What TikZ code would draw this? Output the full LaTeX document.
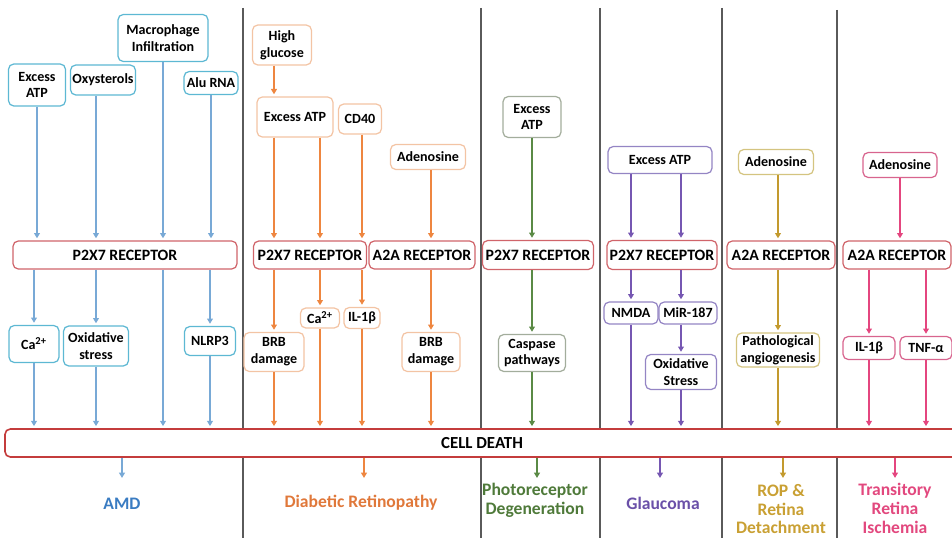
\documentclass[tikz,border=0pt]{standalone}
\usepackage{fontspec}
\setmainfont{Carlito}
\usetikzlibrary{arrows.meta}
\newcommand{\px}{.2mm}
\definecolor{amdbox}{HTML}{5DB8D3}
\definecolor{amdarr}{HTML}{78A9D6}
\definecolor{amdtxt}{HTML}{3A7CC2}
\definecolor{drbox}{HTML}{F3C4A4}
\definecolor{drarr}{HTML}{EE8640}
\definecolor{drtxt}{HTML}{E0783A}
\definecolor{pdbox}{HTML}{A3AD9C}
\definecolor{pdarr}{HTML}{5A8A45}
\definecolor{pdtxt}{HTML}{4F7A3A}
\definecolor{glbox}{HTML}{9485C4}
\definecolor{glarr}{HTML}{7657B2}
\definecolor{gltxt}{HTML}{6A50A8}
\definecolor{ropbox}{HTML}{D4C480}
\definecolor{roparr}{HTML}{C39A2E}
\definecolor{roptxt}{HTML}{C9A033}
\definecolor{tribox}{HTML}{D8648E}
\definecolor{triarr}{HTML}{E4467F}
\definecolor{tritxt}{HTML}{E2487E}
\definecolor{recred}{HTML}{D0646A}
\definecolor{cdred}{HTML}{C43C3C}
\definecolor{sepgray}{HTML}{5A5A5A}

\tikzset{
  box/.style={draw, rounded corners=3pt, fill=white, align=center, inner sep=1pt,
    line width=.7pt, font=\bfseries\fontsize{8}{9.6}\selectfont},
  sz/.style 2 args={minimum width=#1*\px, minimum height=#2*\px},
  rec/.style={box, draw=recred, font=\bfseries\fontsize{9}{10}\selectfont},
  arr/.style={-{Triangle[width=3.4pt,length=3pt]}, line width=.6pt, shorten >=1.2pt},
  dis/.style={align=center, font=\bfseries\fontsize{10}{10.8}\selectfont},
}

\begin{document}
\begin{tikzpicture}[x=\px, y=-\px]
  \useasboundingbox (0,0) rectangle (952,538);
  \draw[sepgray, line width=.8pt]
    (243,8) -- (243,538) (481,8) -- (481,538) (600,8) -- (600,538)
    (722,8) -- (722,538) (837,10) -- (837,538);

  % AMD
  \node (a1) at (37,85) [box, draw=amdbox, sz={57}{42}] {Excess\\ATP};
  \node (a2) at (103,80) [box, draw=amdbox, sz={65}{30}] {Oxysterols};
  \node (a3) at (163,38) [box, draw=amdbox, sz={90}{47}] {Macrophage\\Infiltration};
  \node (a4) at (211,83) [box, draw=amdbox, sz={54}{23}] {Alu RNA};
  \node (r1) at (125,255) [rec, sz={224}{28}] {P2X7 RECEPTOR};
  \node (a5) at (34,344) [box, draw=amdbox, sz={50}{37}] {Ca\textsuperscript{2+}};
  \node (a6) at (96,346) [box, draw=amdbox, sz={65}{40}] {Oxidative\\stress};
  \node (a7) at (210,341) [box, draw=amdbox, sz={51}{29}] {NLRP3};

  % diabetic retinopathy
  \node (d1) at (282,45) [box, draw=drbox, sz={59}{40}] {High\\glucose};
  \node (d2) at (295,117) [box, draw=drbox, sz={76}{40}] {Excess ATP};
  \node (d3) at (360,119) [box, draw=drbox, sz={43}{30}] {CD40};
  \node (d4) at (428,157) [box, draw=drbox, sz={75}{25}] {Adenosine};
  \node (r2) at (310,255) [rec, sz={113}{28}] {P2X7 RECEPTOR};
  \node (r3) at (422,255) [rec, sz={106}{28}] {A2A RECEPTOR};
  \node (d5) at (274,352) [box, draw=drbox, sz={60}{39}] {BRB\\damage};
  \node (d6) at (320,318) [box, draw=drbox, sz={39}{20}] {Ca\textsuperscript{2+}};
  \node (d7) at (362,318) [box, draw=drbox, sz={36}{21}] {IL-1β};
  \node (d8) at (431,352) [box, draw=drbox, sz={58}{39}] {BRB\\damage};

  % photoreceptor degeneration
  \node (p1) at (532,117) [box, draw=pdbox, sz={58}{41}] {Excess\\ATP};
  \node (r4) at (538,255) [rec, sz={111}{29}] {P2X7 RECEPTOR};
  \node (p2) at (532,353) [box, draw=pdbox, sz={67}{37}] {Caspase\\pathways};

  % glaucoma
  \node (g1) at (660,160) [box, draw=glbox, sz={104}{27}] {Excess ATP};
  \node (r5) at (662,255) [rec, sz={110}{29}] {P2X7 RECEPTOR};
  \node (g2) at (631,313) [box, draw=glbox, sz={54}{22}] {NMDA};
  \node (g3) at (688,313) [box, draw=glbox, sz={58}{22}] {MiR-187};
  \node (g4) at (681,372) [box, draw=glbox, sz={71}{35}] {Oxidative\\Stress};

  % ROP
  \node (o1) at (776,162) [box, draw=ropbox, sz={75}{25}] {Adenosine};
  \node (r6) at (781,255) [rec, sz={108}{28}] {A2A RECEPTOR};
  \node (o2) at (778,350) [box, draw=ropbox, sz={83}{34}] {Pathological\\angiogenesis};

  % transitory retina ischemia
  \node (t1) at (900,165) [box, draw=tribox, sz={74}{25}] {Adenosine};
  \node (r7) at (897,255) [rec, sz={108}{28}] {A2A RECEPTOR};
  \node (t2) at (869,348) [box, draw=tribox, sz={52}{23}] {IL-1β};
  \node (t3) at (926,348) [box, draw=tribox, sz={52}{23}] {TNF-α};

  \node (cd) at (482,443) [box, draw=cdred, line width=.9pt, sz={954}{28},
    font=\bfseries\fontsize{9.6}{11}\selectfont] {CELL DEATH};

  \node (l1) at (122,504) [dis, text=amdtxt] {AMD};
  \node (l2) at (361,503) [dis, text=drtxt] {Diabetic Retinopathy};
  \node (l3) at (535,500) [dis, text=pdtxt] {Photoreceptor\\Degeneration};
  \node (l4) at (663,503) [dis, text=gltxt] {Glaucoma};
  \node (l5) at (781,509) [dis, text=roptxt] {ROP \&\\Retina\\Detachment};
  \node (l6) at (895,508) [dis, text=tritxt] {Transitory\\Retina\\Ischemia};

  \path[arr, amdarr]
    (a1.south) edge (a1 |- r1.north)
    (a2.south -| a6) edge (r1.north -| a6)
    (a3.south) edge (a3 |- r1.north)
    (a4.south) edge (a4 |- r1.north)
    (r1.south -| a5) edge (a5.north)
    (r1.south -| a6) edge (a6.north)
    (r1.south -| a7) edge (a7.north)
    (a5.south) edge (a5 |- cd.north)
    (a6.south) edge (a6 |- cd.north)
    (r1.south -| a3) edge (cd.north -| a3)
    (a7.south) edge (a7 |- cd.north)
    (cd.south -| l1) edge (l1 |- 0,480);
  \path[arr, drarr]
    (d1.south -| d5) edge (d2.north -| d5)
    (d2.south -| d5) edge (r2.north -| d5)
    (d2.south -| d6) edge (r2.north -| d6)
    (d3.south -| d7) edge (r2.north -| d7)
    (d4.south -| d8) edge (r3.north -| d8)
    (r2.south -| d5) edge (d5.north)
    (r2.south -| d6) edge (d6.north)
    (r2.south -| d7) edge (d7.north)
    (r3.south -| d8) edge (d8.north)
    (d5.south) edge (d5 |- cd.north)
    (d6.south) edge (d6 |- cd.north)
    (d7.south) edge (d7 |- cd.north)
    (d8.south) edge (d8 |- cd.north)
    (cd.south -| 364,0) edge (364,480);
  \path[arr, pdarr]
    (p1.south) edge (p1 |- r4.north)
    (r4.south -| p2) edge (p2.north)
    (p2.south) edge (p2 |- cd.north)
    (cd.south -| 537,0) edge (537,480);
  \path[arr, glarr]
    (g1.south -| g2) edge (r5.north -| g2)
    (g1.south -| g4) edge (r5.north -| g4)
    (r5.south -| g2) edge (g2.north)
    (r5.south -| g4) edge (g3.north -| g4)
    (g3.south -| g4) edge (g4.north)
    (g2.south) edge (g2 |- cd.north)
    (g4.south) edge (g4 |- cd.north)
    (cd.south -| 660,0) edge (660,480);
  \path[arr, roparr]
    (o1.south -| o2) edge (r6.north -| o2)
    (r6.south -| o2) edge (o2.north)
    (o2.south) edge (o2 |- cd.north)
    (cd.south -| 783,0) edge (783,480);
  \path[arr, triarr]
    (t1.south) edge (t1 |- r7.north)
    (r7.south -| t2) edge (t2.north)
    (r7.south -| t3) edge (t3.north)
    (t2.south) edge (t2 |- cd.north)
    (t3.south) edge (t3 |- cd.north)
    (cd.south -| l6) edge (l6 |- 0,480);
\end{tikzpicture}
\end{document}
